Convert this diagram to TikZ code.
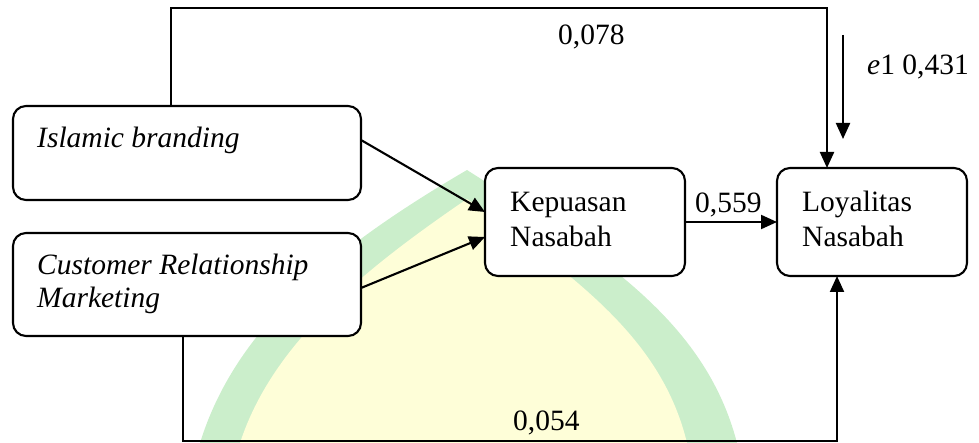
\documentclass[tikz,border=0pt]{standalone}
\usepackage{fontspec}
\setmainfont{Liberation Serif}
\usetikzlibrary{arrows.meta,calc}
\definecolor{wmgreen}{RGB}{203,238,203}
\definecolor{wmyellow}{RGB}{254,254,216}
\begin{document}
\begin{tikzpicture}[x=1pt,y=-1pt,
  box/.style={draw,line width=2.1pt,fill=white,rounded corners=13pt,inner sep=0pt,outer sep=0pt},
  lbl/.style={anchor=base west,inner sep=0pt,font=\fontsize{29.5}{35}\selectfont},
  arr/.style={line width=2.1pt,-{Triangle[length=16pt,width=14pt]}}]
\useasboundingbox (0,0) rectangle (979,443);
% faint background emblem
\fill[wmgreen] (200,443) .. controls (235,330) and (330,250) .. (467,170)
  .. controls (600,255) and (705,320) .. (737,443) -- cycle;
\fill[wmyellow] (240,443) .. controls (272,345) and (360,272) .. (467,199)
  .. controls (580,280) and (662,340) .. (687,443) -- cycle;
% boxes
\node[box,minimum width=348pt,minimum height=94pt] (ib) at (187,153) {};
\node[box,minimum width=348pt,minimum height=103pt] (crm) at (187,284.5) {};
\node[box,minimum width=200pt,minimum height=108pt] (kep) at (585,222) {};
\node[box,minimum width=190pt,minimum height=108pt] (loy) at (872,222) {};
% box texts
\node[lbl] (tib) at (37,148) {\itshape Islamic branding};
\node[lbl] (tcrm1) at (37,275) {\itshape Customer Relationship};
\node[lbl] (tcrm2) at (37,308) {\itshape Marketing};
\node[lbl] (tkep1) at (510,212) {Kepuasan};
\node[lbl] (tkep2) at (510,247) {Nasabah};
\node[lbl] (tloy1) at (802,212) {Loyalitas};
\node[lbl] (tloy2) at (802,247) {Nasabah};
% path coefficients
\node[lbl] (c078) at (558,45) {0,078};
\node[lbl] (c431) at (867,75) {\textit{e}1 0,431};
\node[lbl] (c559) at (695,213) {0,559};
\node[lbl] (c054) at (513,430) {0,054};
% routing points
\coordinate (tl) at (171,8);
\coordinate (tr) at (827,8);
\coordinate (bl) at (183,441);
\coordinate (br) at (837,441);
\coordinate (es) at (843,35);
\coordinate (ee) at (843,139);
% connectors
\draw[arr] (ib.north -| tl) -- (tl) -- (tr) -- (tr |- loy.north);
\draw[arr] (es) -- (ee);
\draw[arr] ($(ib.east)+(0,-13)$) -- ($(kep.west)+(0,-10)$);
\draw[arr] ($(crm.east)+(0,3.5)$) -- ($(kep.west)+(0,15)$);
\draw[arr] (kep.east) -- (loy.west);
\draw[arr] (crm.south -| bl) -- (bl) -- (br) -- (br |- loy.south);
\end{tikzpicture}
\end{document}
